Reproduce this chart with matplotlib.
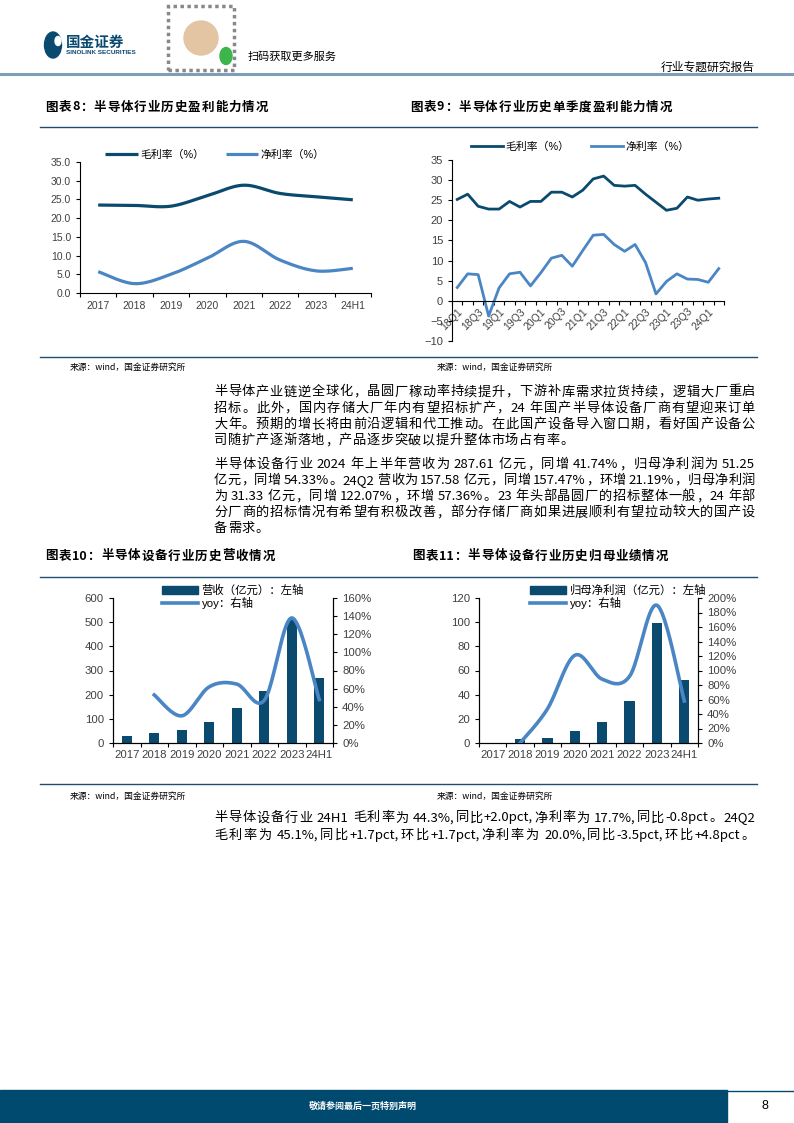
import re
import numpy as np
import matplotlib
matplotlib.use('Agg')
import matplotlib.pyplot as plt
from matplotlib.patches import Rectangle, Patch, Ellipse, Circle
from matplotlib.lines import Line2D
from matplotlib.font_manager import FontProperties

plt.rcParams['font.family'] = ['Liberation Sans', 'Noto Sans CJK SC', 'DejaVu Sans']
CJK = ['Noto Sans CJK SC', 'DejaVu Sans']

# ---------------- datos ----------------
anios = ['2017', '2018', '2019', '2020', '2021', '2022', '2023', '24H1']
margen_bruto_anual = [23.5, 23.4, 23.2, 26.0, 28.8, 26.6, 25.7, 24.9]
margen_neto_anual = [5.7, 2.5, 5.0, 9.3, 13.8, 8.8, 5.9, 6.6]

trimestres = ['18Q1', '18Q2', '18Q3', '18Q4', '19Q1', '19Q2', '19Q3', '19Q4',
              '20Q1', '20Q2', '20Q3', '20Q4', '21Q1', '21Q2', '21Q3', '21Q4',
              '22Q1', '22Q2', '22Q3', '22Q4', '23Q1', '23Q2', '23Q3', '23Q4',
              '24Q1', '24Q2']
margen_bruto_trim = [25.2, 26.5, 23.5, 22.8, 22.8, 24.7, 23.3, 24.7, 24.7, 27.0,
                     27.0, 25.8, 27.5, 30.3, 31.0, 28.7, 28.5, 28.7, 26.5, 24.5,
                     22.5, 23.0, 25.8, 25.0, 25.3, 25.5]
margen_neto_trim = [3.3, 6.7, 6.5, -3.8, 3.2, 6.7, 7.1, 3.7, 7.0, 10.6,
                    11.3, 8.6, 12.5, 16.3, 16.5, 14.0, 12.3, 14.0, 9.5, 1.7,
                    4.8, 6.7, 5.4, 5.3, 4.6, 8.0]

ingresos = [28, 42, 53, 86, 144, 215, 511, 271]
ingresos_yoy = [None, 53, 30, 62, 65, 47, 138, 48]

beneficio = [0.0, 3.1, 4.0, 9.9, 17.5, 34.4, 99.4, 52.0]
beneficio_yoy = [None, 0, 47, 121, 88, 92, 190, 58]

# ---------------- colores ----------------
AZUL_OSC = '#0b4a6f'
AZUL_CLA = '#4a86c3'
GRIS = '#404040'

W, H = 794, 1123
fig = plt.figure(figsize=(W / 100, H / 100), dpi=100)


def fx(x):
    return x / W


def fy(y):
    return 1 - y / H


def eje(l, t, r, b):
    return fig.add_axes([fx(l), fy(b), (r - l) / W, (b - t) / H])


def linea(x0, x1, y, color, lw):
    fig.add_artist(Line2D([fx(x0), fx(x1)], [fy(y), fy(y)], color=color, lw=lw,
                          transform=fig.transFigure))


def suave(x, y, n=24):
    # curva tipo Excel (Catmull-Rom) sobre los puntos dados
    x = np.asarray(x, float)
    y = np.asarray(y, float)
    px = np.concatenate([[x[0]], x, [x[-1]]])
    py = np.concatenate([[y[0]], y, [y[-1]]])
    xs, ys = [], []
    t = np.linspace(0, 1, n)
    for i in range(1, len(px) - 2):
        for p, out in ((px, xs), (py, ys)):
            p0, p1, p2, p3 = p[i - 1], p[i], p[i + 1], p[i + 2]
            out.extend(0.5 * ((2 * p1) + (-p0 + p2) * t +
                              (2 * p0 - 5 * p1 + 4 * p2 - p3) * t ** 2 +
                              (-p0 + 3 * p1 - 3 * p2 + p3) * t ** 3))
    return np.array(xs), np.array(ys)


renderer = fig.canvas.get_renderer()


def texto_just(s, x0, x1, y, size, justificar=True, color='black', weight='normal'):
    # texto justificado: los numeros/palabras latinas van juntos
    fp = FontProperties(family=CJK, size=size, weight=weight)
    trozos = re.findall(r'[A-Za-z0-9.%+\-,]+| |.', s)
    anchos = [renderer.get_text_width_height_descent(c, fp, ismath=False)[0]
              if c != ' ' else size * 0.25 for c in trozos]
    gap = (x1 - x0 - sum(anchos)) / (len(trozos) - 1) if justificar else 0.6
    x = x0
    for c, w in zip(trozos, anchos):
        if c != ' ':
            fig.text(fx(x), fy(y), c, fontsize=size, family=CJK, color=color,
                     va='center', ha='left', weight=weight)
        x += w + gap


# ---------------- cabecera ----------------
fig.add_artist(Ellipse((fx(53), fy(45)), 17 / W, 26 / H, color=AZUL_OSC,
                       transform=fig.transFigure))
fig.add_artist(Ellipse((fx(58), fy(41)), 6 / W, 9 / H, color='white',
                       transform=fig.transFigure))
fig.text(fx(66), fy(42), '国金证券', fontsize=10.5, weight='bold', color=AZUL_OSC,
         family=CJK, va='center')
fig.text(fx(66), fy(53), 'SINOLINK SECURITIES', fontsize=4.6, weight='bold',
         color=AZUL_OSC, va='center')
fig.add_artist(Rectangle((fx(168), fy(70)), 66 / W, 64 / H, fill=False,
                         ec='#888888', lw=2.5, ls=(0, (1, 1)),
                         transform=fig.transFigure))
fig.add_artist(Ellipse((fx(201), fy(38)), 34 / W, 34 / H, color='#e3c5a3',
                       transform=fig.transFigure))
fig.add_artist(Circle((fx(226), fy(56)), 6 / W, color='#3cb54a',
                      transform=fig.transFigure))
fig.text(fx(248), fy(57), '扫码获取更多服务', fontsize=8, family=CJK, va='center')
fig.text(fx(755), fy(67), '行业专题研究报告', fontsize=8.5, family=CJK,
         va='center', ha='right')
linea(0, W, 74, '#7e9dba', 2.2)

# ---------------- titulos y separadores ----------------
titulos = [(45, 268, 107, '图表8：半导体行业历史盈利能力情况'),
           (410, 672, 107, '图表9：半导体行业历史单季度盈利能力情况'),
           (45, 275, 556, '图表10：半导体设备行业历史营收情况'),
           (412, 668, 556, '图表11：半导体设备行业历史归母业绩情况')]
for x0, x1, y, s in titulos:
    texto_just(s, x0, x1, y, 9.0, weight='bold')
for y in (127, 357, 577, 784):
    linea(40, 757, y, '#1d4f70', 1.0)
for y in (367, 796):
    fig.text(fx(70), fy(y), '来源：wind，国金证券研究所', fontsize=6.3, family=CJK, va='center')
    fig.text(fx(437), fy(y), '来源：wind，国金证券研究所', fontsize=6.3, family=CJK, va='center')


def estilo(ax, spines=('left', 'bottom')):
    for k, sp in ax.spines.items():
        sp.set_visible(k in spines)
        sp.set_linewidth(0.8)
    ax.tick_params(labelsize=7.5, colors='black', labelcolor=GRIS, length=3, width=0.8)


# ---------------- grafico 8 ----------------
ax8 = eje(80, 162, 371, 293)
xs = np.arange(len(anios))
for serie, col, lab in ((margen_bruto_anual, AZUL_OSC, '毛利率（%）'),
                        (margen_neto_anual, AZUL_CLA, '净利率（%）')):
    sx, sy = suave(xs, serie)
    ax8.plot(sx, sy, color=col, lw=2.3, label=lab, solid_capstyle='butt')
ax8.set_xlim(-0.5, 7.5)
ax8.set_ylim(0, 35)
ax8.set_yticks(np.arange(0, 36, 5))
ax8.set_yticklabels(['%.1f' % v for v in np.arange(0, 36, 5)])
ax8.set_xticks(xs)
ax8.set_xticklabels(anios)
ax8.set_xticks(np.arange(-0.5, 8, 1), minor=True)
estilo(ax8)
ax8.tick_params(axis='x', which='major', length=0, pad=6)
ax8.tick_params(axis='x', which='minor', length=3, width=0.8)
ax8.legend(loc='center', bbox_to_anchor=(fx(215), fy(155)), bbox_transform=fig.transFigure,
           ncol=2, frameon=False, fontsize=7.8, handlelength=3, columnspacing=2,
           handletextpad=0.2, borderpad=0)

# ---------------- grafico 9 ----------------
ax9 = eje(452, 160, 724, 341)
xq = np.arange(len(trimestres))
ax9.plot(xq, margen_bruto_trim, color=AZUL_OSC, lw=2.0, label='毛利率（%）')
ax9.plot(xq, margen_neto_trim, color=AZUL_CLA, lw=2.0, label='净利率（%）')
ax9.set_xlim(-0.5, len(trimestres) - 0.5)
ax9.set_ylim(-10, 35)
ax9.set_yticks(np.arange(-10, 36, 5))
ax9.spines['bottom'].set_position(('data', 0))
ax9.set_xticks(xq[::2])
ax9.set_xticklabels(trimestres[::2], rotation=45, ha='right', rotation_mode='anchor')
ax9.set_xticks(np.arange(-0.5, len(trimestres), 1), minor=True)
estilo(ax9)
ax9.tick_params(axis='x', which='major', length=0, pad=4, labelsize=7.5)
ax9.tick_params(axis='x', which='minor', length=3, width=0.8)
ax9.tick_params(axis='y', labelsize=8)
ax9.legend(loc='center', bbox_to_anchor=(fx(580), fy(147)), bbox_transform=fig.transFigure,
           ncol=2, frameon=False, fontsize=7.8, handlelength=3, columnspacing=2,
           handletextpad=0.2, borderpad=0)


# ---------------- graficos 10 y 11 ----------------
def barras(l, r, valores, yoy, ymax, ystep, ymax2, ystep2, lab_bar, leg_x):
    ax = eje(l, 598, r, 743)
    x = np.arange(len(anios))
    ax.bar(x, valores, width=0.37, color=AZUL_OSC, zorder=2)
    ax.set_xlim(-0.5, 7.5)
    ax.set_ylim(0, ymax)
    ax.set_yticks(np.arange(0, ymax + 1, ystep))
    ax.set_xticks(x)
    ax.set_xticklabels(anios)
    ax.set_xticks(np.arange(-0.5, 8, 1), minor=True)
    estilo(ax, ('left', 'bottom', 'right'))
    ax.tick_params(labelsize=8.2)
    ax.tick_params(axis='x', which='major', length=0, pad=5)
    ax.tick_params(axis='x', which='minor', length=3, width=0.8)
    ax2 = ax.twinx()
    idx = [i for i, v in enumerate(yoy) if v is not None]
    sx, sy = suave(idx, [yoy[i] for i in idx])
    ax2.plot(sx, sy, color=AZUL_CLA, lw=2.6, zorder=3)
    ax2.set_ylim(0, ymax2)
    ax2.set_yticks(np.arange(0, ymax2 + 1, ystep2))
    ax2.set_yticklabels(['%d%%' % v for v in np.arange(0, ymax2 + 1, ystep2)])
    estilo(ax2, ('left', 'bottom', 'right'))
    ax2.tick_params(labelsize=8.2)
    handles = [Patch(color=AZUL_OSC), Line2D([], [], color=AZUL_CLA, lw=2.6)]
    ax2.legend(handles, [lab_bar, 'yoy：右轴'], loc='upper left',
               bbox_to_anchor=(fx(leg_x), fy(579)), bbox_transform=fig.transFigure,
               frameon=False, fontsize=8.2, handlelength=3.2, handleheight=0.6,
               handletextpad=0.3, labelspacing=0.05, borderpad=0)
    return ax, ax2


barras(113, 333, ingresos, ingresos_yoy, 600, 100, 160, 20, '营收（亿元）：左轴', 156)
barras(479, 698, beneficio, beneficio_yoy, 120, 20, 200, 20, '归母净利润（亿元）：左轴', 524)

# ---------------- texto ----------------
parrafo1 = ['半导体产业链逆全球化，晶圆厂稼动率持续提升，下游补库需求拉货持续，逻辑大厂重启',
            '招标。此外，国内存储大厂年内有望招标扩产，24 年国产半导体设备厂商有望迎来订单',
            '大年。预期的增长将由前沿逻辑和代工推动。在此国产设备导入窗口期，看好国产设备公',
            '司随扩产逐渐落地，产品逐步突破以提升整体市场占有率。']
parrafo2 = ['半导体设备行业 2024 年上半年营收为 287.61 亿元，同增 41.74%，归母净利润为 51.25',
            '亿元，同增 54.33%。24Q2 营收为 157.58 亿元，同增 157.47%，环增 21.19%，归母净利润',
            '为 31.33 亿元，同增 122.07%，环增 57.36%。23 年头部晶圆厂的招标整体一般，24 年部',
            '分厂商的招标情况有希望有积极改善，部分存储厂商如果进展顺利有望拉动较大的国产设',
            '备需求。']
parrafo3 = ['半导体设备行业 24H1 毛利率为 44.3%,同比+2.0pct,净利率为 17.7%,同比-0.8pct。24Q2',
            '毛利率为 45.1%,同比+1.7pct,环比+1.7pct,净利率为 20.0%,同比-3.5pct,环比+4.8pct。']

for lineas, y0, paso in ((parrafo1, 392, 16.2), (parrafo2, 464.5, 16.0), (parrafo3, 818, 17.5)):
    for i, s in enumerate(lineas):
        ultimo = (i == len(lineas) - 1) and lineas is not parrafo3
        texto_just(s, 214, 755, y0 + i * paso, 9.5, justificar=not ultimo)

# ---------------- pie ----------------
fig.add_artist(Rectangle((0, fy(1123)), fx(727), 33 / H, color='#004a70',
                         transform=fig.transFigure))
linea(727, W, 1091, '#004a70', 1.0)
fig.text(fx(363), fy(1106), '敬请参阅最后一页特别声明', fontsize=6.5, color='white',
         family=CJK, ha='center', va='center', weight='bold')
fig.text(fx(765), fy(1106), '8', fontsize=9, ha='center', va='center')

fig.savefig('out.png', dpi=100)
